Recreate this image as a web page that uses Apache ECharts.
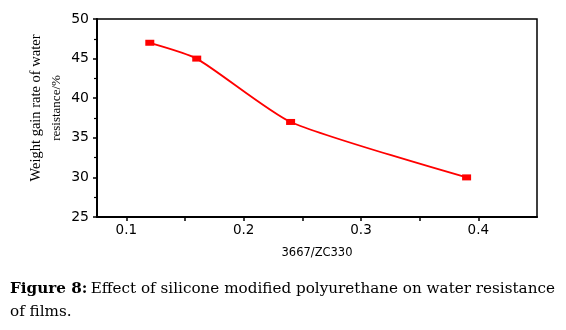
<!DOCTYPE html>
<html>
<head>
<meta charset="utf-8">
<script src="https://cdn.jsdelivr.net/npm/echarts@6/dist/echarts.min.js"></script>
<style>
html,body{margin:0;padding:0;background:#fff;}
#c{width:566px;height:330px;}
</style>
</head>
<body>
<div id="c"></div>
<script>
var ratios = [0.12, 0.16, 0.24, 0.39];
var weightGain = [47, 45, 37, 30];
var xTicks = [0.1, 0.2, 0.3, 0.4];
var yTicks = [25, 30, 35, 40, 45, 50];

var chart = echarts.init(document.getElementById('c'));
var data = ratios.map(function (x, i) { return [x, weightGain[i]]; });
chart.setOption({
  animation: false,
  backgroundColor: '#fff',
  grid: { left: 97, right: 29, top: 19, bottom: 113, show: true, borderColor: '#000', borderWidth: 1.5 },
  xAxis: {
    type: 'value', min: 0.075, max: 0.45, interval: 0.1,
    axisLine: { show: true, lineStyle: { color: '#000', width: 2 } },
    axisTick: { show: true, length: 4, lineStyle: { color: '#000', width: 1.5 }, customValues: [0.1, 0.15, 0.2, 0.25, 0.3, 0.35, 0.4] },
    minorTick: { show: false },
    axisLabel: { color: '#000', fontFamily: 'DejaVu Sans', fontSize: 13.5, margin: 6, customValues: xTicks,
      formatter: function (v) { return v.toFixed(1); } },
    splitLine: { show: false },
    name: '3667/ZC330', nameLocation: 'middle', nameGap: 30,
    nameTextStyle: { color: '#000', fontFamily: 'DejaVu Sans', fontSize: 11.5 }
  },
  yAxis: {
    type: 'value', min: 25, max: 50, interval: 5,
    axisLine: { show: true, lineStyle: { color: '#000', width: 2 } },
    axisTick: { show: true, length: 4, lineStyle: { color: '#000', width: 1.5 } },
    minorTick: { show: true, splitNumber: 2, length: 3, lineStyle: { color: '#000', width: 1.2 } },
    axisLabel: { color: '#000', fontFamily: 'DejaVu Sans', fontSize: 14, margin: 8 },
    splitLine: { show: false }
  },
  graphic: [
    { type: 'text', x: 36, y: 108, rotation: Math.PI / 2,
      style: { text: 'Weight gain rate of water', fontFamily: 'Liberation Serif', fontSize: 14.5, fill: '#000', align: 'center', verticalAlign: 'middle' } },
    { type: 'text', x: 57, y: 108, rotation: Math.PI / 2,
      style: { text: 'resistance/%', fontFamily: 'Liberation Serif', fontSize: 13, fill: '#000', align: 'center', verticalAlign: 'middle' } },
    { type: 'text', left: 10, top: 282,
      style: { rich: { b: { fontWeight: 'bold', fontFamily: 'DejaVu Serif', fontSize: 15.2, fill: '#000' }, n: { fontFamily: 'DejaVu Serif', fontSize: 15.2, fill: '#000' } },
        text: '{b|Figure 8:} {n|Effect of silicone modified polyurethane on water resistance}', fill: '#000' } },
    { type: 'text', left: 10, top: 305,
      style: { text: 'of films.', fontFamily: 'DejaVu Serif', fontSize: 15.2, fill: '#000' } }
  ],
  series: [{
    type: 'line', data: data, smooth: 0.2,
    symbol: 'rect', symbolSize: [9, 6],
    itemStyle: { color: '#ff0000' },
    lineStyle: { color: '#ff0000', width: 1.8 }
  }]
});
</script>
</body>
</html>
